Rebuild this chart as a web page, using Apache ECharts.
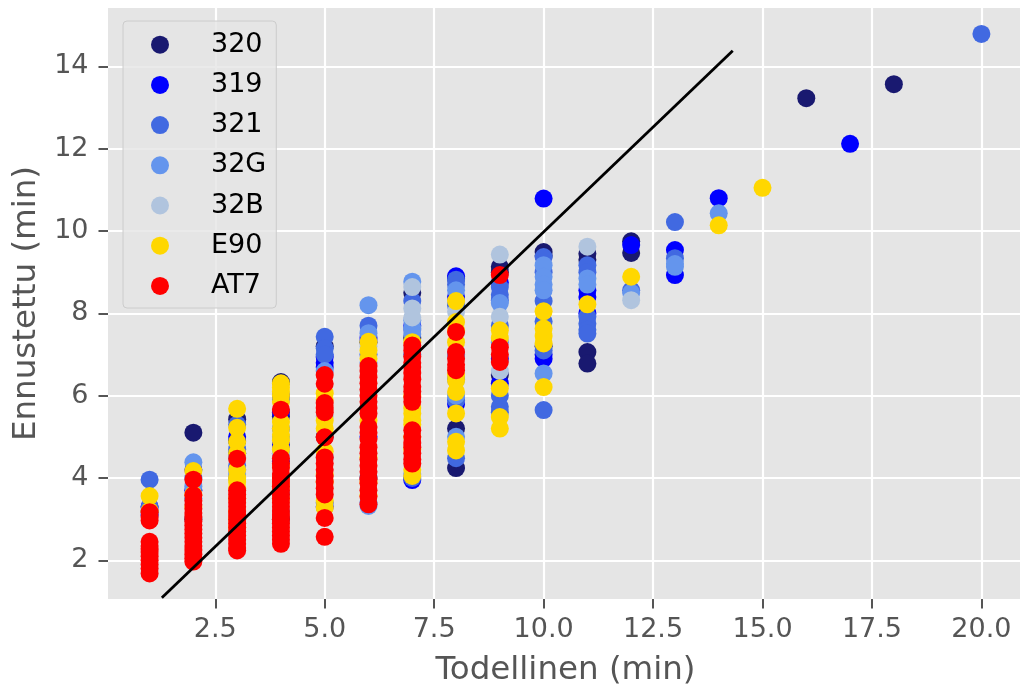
<!DOCTYPE html>
<html>
<head>
<meta charset="utf-8">
<script src="https://cdn.jsdelivr.net/npm/echarts@6/dist/echarts.min.js"></script>
<style>
  html, body { margin: 0; padding: 0; background: #ffffff; }
  #chart { width: 1020px; height: 686px; }
</style>
</head>
<body>
<div id="chart"></div>
<script>
// Routes (legend order = drawing order, last one on top)
const routes = ['320', '319', '321', '32G', '32B', 'E90', 'AT7'];
const routeColors = ['#191970', '#0000FF', '#4169E1', '#6495ED', '#B0C4DE', '#FFD700', '#FF0000'];

const xTicks = [2.5, 5, 7.5, 10, 12.5, 15, 17.5, 20];
const yTicks = [2, 4, 6, 8, 10, 12, 14];

// Predicted travel time (min) grouped by actual travel time (min): [actual, [predicted...]]
const pred320 = [
  [1, [3.2]],
  [2, [5.1, 3.0]],
  [3, [5.43, 4.9]],
  [4, [6.33, 5.5, 3.0]],
  [5, [7.2, 5.0]],
  [6, [7.3, 4.0]],
  [7, [8.5, 7.4]],
  [8, [8.85, 5.2, 4.24]],
  [9, [9.13, 9.0, 6.5]],
  [10, [9.49, 9.4, 7.2]],
  [11, [9.45, 9.3, 7.06, 6.78]],
  [12, [9.75, 9.47]],
  [16, [13.23]],
  [18, [13.57]]
];
const pred319 = [
  [1, [3.3, 3.1]],
  [2, [4.2, 3.7]],
  [3, [5.0, 4.6, 4.2]],
  [4, [6.0, 5.6, 4.8, 4.4]],
  [5, [6.94, 6.8, 6.7, 3.3]],
  [6, [7.4, 5.0]],
  [7, [7.7, 3.95]],
  [8, [8.9, 8.4, 5.8]],
  [9, [8.75, 6.9, 6.3]],
  [10, [10.79, 7.0, 6.9]],
  [11, [8.56, 8.4, 8.0]],
  [12, [9.66]],
  [13, [9.54, 8.93]],
  [14, [10.8]],
  [17, [12.12]]
];
const pred321 = [
  [1, [3.96, 3.3]],
  [2, [4.0, 3.5]],
  [3, [5.3, 4.7, 4.3, 4.0]],
  [4, [5.9, 5.2, 4.6, 3.6]],
  [5, [7.43, 7.15, 7.0, 3.4]],
  [6, [7.7, 7.0, 3.4]],
  [7, [8.3, 7.6, 7.0, 4.0]],
  [8, [8.82, 8.7, 8.2, 7.0, 6.4, 5.89, 4.48]],
  [9, [8.64, 8.45, 8.32, 7.7, 6.0, 5.73, 5.6]],
  [10, [9.37, 9.0, 8.3, 7.8, 7.1, 5.65]],
  [11, [9.17, 9.0, 7.92, 7.75, 7.6, 7.51]],
  [12, [8.56]],
  [13, [10.22, 9.34]],
  [20, [14.79]]
];
const pred32G = [
  [2, [4.38, 3.8]],
  [3, [4.5, 4.1]],
  [4, [5.0, 3.2]],
  [5, [6.6, 4.5]],
  [6, [8.2, 7.52, 6.8, 3.32]],
  [7, [8.77, 7.83, 7.64, 7.5, 4.1]],
  [8, [8.56, 7.0, 6.0, 5.0]],
  [9, [8.25, 7.3]],
  [10, [9.17, 8.89, 8.7, 8.56, 6.54]],
  [11, [8.85, 8.7]],
  [12, [8.5]],
  [13, [9.13, 9.2]],
  [14, [10.43]]
];
const pred32B = [
  [3, [4.2]],
  [4, [4.6]],
  [5, [5.5]],
  [6, [7.2]],
  [7, [8.64, 8.12, 7.9]],
  [8, [8.04]],
  [9, [9.43, 7.92, 6.6]],
  [11, [9.62]],
  [12, [8.32]]
];
const predE90 = [
  [1, [3.56, 3.2]],
  [2, [4.17, 3.6, 3.3]],
  [3, [5.68, 5.22, 4.88, 4.6, 4.2, 4.0, 3.9, 3.75, 3.5, 3.2, 3.0, 2.8]],
  [4, [6.3, 6.2, 6.1, 6.0, 5.85, 5.36, 5.2, 5.05, 4.92, 4.7, 4.3, 4.0, 3.8, 3.5]],
  [5, [6.06, 5.9, 5.4, 5.2, 4.65, 4.1, 3.9, 3.45, 3.28]],
  [6, [7.31, 7.1, 6.9, 5.4, 4.5, 3.9, 3.58]],
  [7, [7.3, 6.0, 5.7, 5.57, 5.4, 5.3, 5.0, 4.7, 4.2, 4.05]],
  [8, [8.3, 7.79, 7.59, 7.3, 6.5, 6.37, 6.09, 5.57, 4.88, 4.67]],
  [9, [7.59, 7.4, 6.18, 5.48, 5.2]],
  [10, [8.05, 7.63, 7.45, 7.27, 6.21]],
  [11, [8.22]],
  [12, [8.89]],
  [14, [10.14]],
  [15, [11.05]]
];
const predAT7 = [
  [1, [3.17, 3.05, 2.97, 2.45, 2.35, 2.28, 2.2, 2.1, 2.0, 1.9, 1.8, 1.68]],
  [2, [3.96, 3.58, 3.45, 3.35, 3.25, 3.15, 3.05, 2.95, 2.85, 2.75, 2.65, 2.55, 2.45, 2.35, 2.25, 2.15, 2.05, 1.97]],
  [3, [4.47, 3.7, 3.6, 3.5, 3.4, 3.3, 3.2, 3.1, 3.0, 2.9, 2.8, 2.7, 2.6, 2.5, 2.4, 2.3, 2.24]],
  [4, [5.66, 4.48, 4.35, 4.25, 4.1, 4.0, 3.9, 3.8, 3.7, 3.6, 3.5, 3.4, 3.3, 3.2, 3.1, 3.0, 2.9, 2.8, 2.7, 2.6, 2.5, 2.4]],
  [5, [6.5, 6.29, 5.82, 5.7, 5.6, 4.99, 4.5, 4.35, 4.2, 4.05, 3.9, 3.75, 3.6, 3.03, 2.57]],
  [6, [6.72, 6.6, 6.45, 6.3, 6.15, 6.0, 5.85, 5.7, 5.57, 5.24, 5.1, 4.95, 4.75, 4.6, 4.45, 4.3, 4.15, 3.97, 3.87, 3.7, 3.55, 3.36]],
  [7, [7.22, 7.1, 6.95, 6.8, 6.7, 6.55, 6.4, 6.22, 6.1, 5.97, 5.85, 5.16, 5.0, 4.85, 4.75, 4.6, 4.45, 4.35]],
  [8, [7.55, 7.06, 6.9, 6.75, 6.62]],
  [9, [8.93, 7.18, 7.0, 6.82]]
];
const routeData = [pred320, pred319, pred321, pred32G, pred32B, predE90, predAT7];

// Reference line (actual vs predicted)
const fitLine = [[1.28, 1.09], [14.32, 14.38]];

const FONT = 'DejaVu Sans';
const toPoints = groups => groups.flatMap(([x, ys]) => ys.map(y => [x, y]));

const scatterSeries = routes.map((name, i) => ({
  name: name,
  type: 'scatter',
  data: toPoints(routeData[i]),
  symbol: 'circle',
  symbolSize: 18,
  itemStyle: { color: routeColors[i], opacity: 1 },
  emphasis: { disabled: true },
  z: 2 + i
}));

const chart = echarts.init(document.getElementById('chart'), null, { renderer: 'canvas' });
chart.setOption({
  animation: false,
  backgroundColor: '#ffffff',
  grid: {
    // the plot panel runs a few pixels past the right edge of the canvas
    left: 108, width: 915, top: 8, height: 591,
    outerBoundsMode: 'none',
    containLabel: false,
    show: true, backgroundColor: '#E5E5E5', borderWidth: 0
  },
  legend: {
    data: routes,
    orient: 'vertical',
    left: 123, top: 21,
    padding: [3.6, 10, 2, 28],
    itemGap: 0,
    itemWidth: 18, itemHeight: 18,
    icon: 'circle',
    backgroundColor: 'rgba(229,229,229,0.8)',
    borderColor: '#CCCCCC', borderWidth: 1, borderRadius: 4,
    selectedMode: false,
    textStyle: {
      fontFamily: FONT, fontSize: 27, color: '#000000',
      lineHeight: 40.2, padding: [0, 0, 0, 37]
    }
  },
  xAxis: {
    type: 'value',
    min: 0.05, max: 20.95,
    name: 'Todellinen (min)',
    nameLocation: 'middle',
    nameGap: 55,
    nameTextStyle: { fontFamily: FONT, fontSize: 32.5, color: '#555555' },
    axisLine: { show: false },
    axisTick: { show: true, length: 9.5, customValues: xTicks, lineStyle: { color: '#555555', width: 2 } },
    axisLabel: {
      customValues: xTicks, margin: 17.5,
      fontFamily: FONT, fontSize: 27, color: '#555555',
      formatter: v => v.toFixed(1)
    },
    splitLine: { show: true, lineStyle: { color: '#FFFFFF', width: 2.2 } }
  },
  yAxis: {
    type: 'value',
    min: 1.06, max: 15.42,
    name: 'Ennustettu (min)',
    nameLocation: 'middle',
    nameGap: 63,
    nameTextStyle: { fontFamily: FONT, fontSize: 32.5, color: '#555555' },
    axisLine: { show: false },
    axisTick: { show: true, length: 9.5, customValues: yTicks, lineStyle: { color: '#555555', width: 2 } },
    axisLabel: {
      customValues: yTicks, margin: 19.5,
      fontFamily: FONT, fontSize: 27, color: '#555555',
      formatter: v => String(v)
    },
    splitLine: { show: true, lineStyle: { color: '#FFFFFF', width: 2.2 } }
  },
  series: scatterSeries.concat([{
    name: 'fit',
    type: 'line',
    data: fitLine,
    symbol: 'none',
    lineStyle: { color: '#000000', width: 2.8 },
    emphasis: { disabled: true },
    z: 20
  }])
});
</script>
</body>
</html>
